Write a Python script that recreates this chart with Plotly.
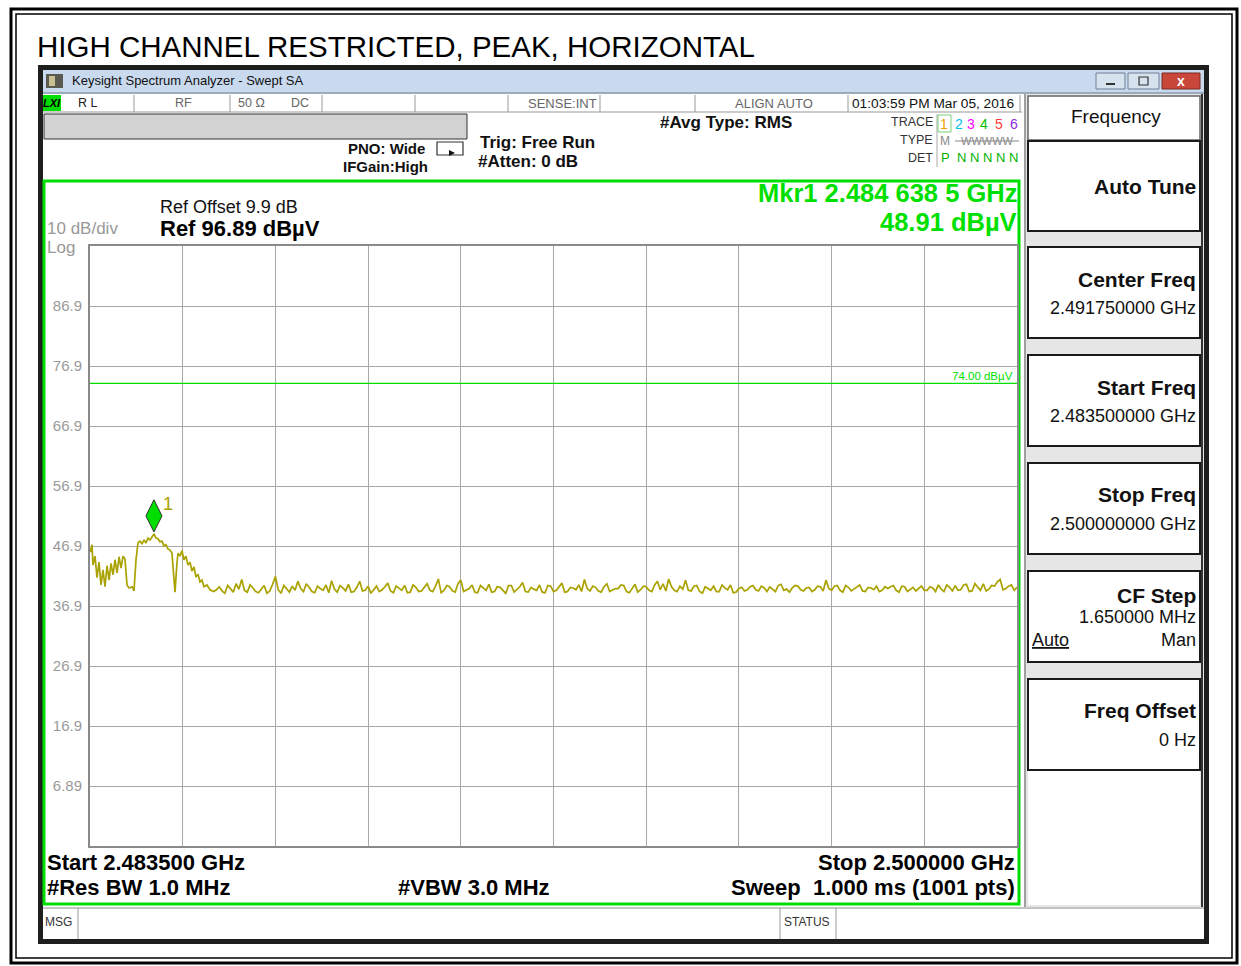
import plotly.graph_objects as go

# ---- data ----
title_text = "HIGH CHANNEL RESTRICTED, PEAK, HORIZONTAL"

start_mhz = 2483.5
stop_mhz = 2500.0
ref_level = 96.89
db_per_div = 10
limit_level = 74.00
mkr_freq = 2484.6385
mkr_level = 48.91

ytick_vals = [86.89, 76.89, 66.89, 56.89, 46.89, 36.89, 26.89, 16.89, 6.89]
ytick_text = ["86.9", "76.9", "66.9", "56.9", "46.9", "36.9", "26.9", "16.9", "6.89"]

# band edge / carrier skirt region
peak_freq = [2483.500, 2483.518, 2483.536, 2483.553, 2483.589, 2483.625, 2483.660, 2483.696,
             2483.732, 2483.767, 2483.803, 2483.839, 2483.874, 2483.910, 2483.945, 2483.981,
             2484.017, 2484.052, 2484.088, 2484.123, 2484.159, 2484.194, 2484.248, 2484.283,
             2484.319, 2484.354, 2484.390, 2484.425, 2484.461, 2484.497, 2484.532, 2484.568,
             2484.603, 2484.639, 2484.675, 2484.710, 2484.746, 2484.781, 2484.817, 2484.852,
             2484.888, 2484.924, 2484.959, 2484.977, 2485.013, 2485.048, 2485.066, 2485.102,
             2485.137, 2485.173, 2485.208, 2485.244, 2485.280, 2485.315, 2485.351, 2485.386,
             2485.422, 2485.458, 2485.493, 2485.529, 2485.582, 2485.636]
peak_level = [46.6, 45.9, 47.1, 43.7, 45.2, 41.6, 44.2, 40.4,
              42.9, 40.1, 43.6, 41.2, 44.0, 42.1, 44.6, 42.4,
              45.1, 43.2, 45.2, 44.7, 40.4, 39.9, 40.1, 39.4,
              44.6, 47.4, 47.7, 47.2, 47.9, 47.4, 48.2, 47.9,
              48.4, 48.9, 48.2, 48.1, 47.6, 47.7, 46.9, 47.1,
              46.4, 46.2, 45.7, 42.9, 39.2, 44.1, 45.7, 45.2,
              46.1, 44.6, 45.2, 43.7, 44.2, 42.7, 43.4, 41.7,
              42.2, 40.9, 41.2, 40.1, 40.4, 39.6]

# noise floor, read at 0.1 MHz steps ...
floor_freq = [2485.7, 2485.8, 2485.9, 2486.0, 2486.1, 2486.2, 2486.3, 2486.4, 2486.5, 2486.6, 2486.7, 2486.8,
              2486.9, 2487.0, 2487.1, 2487.2, 2487.3, 2487.4, 2487.5, 2487.6, 2487.7, 2487.8, 2487.9, 2488.0,
              2488.1, 2488.2, 2488.3, 2488.4, 2488.5, 2488.6, 2488.7, 2488.8, 2488.9, 2489.0, 2489.1, 2489.2,
              2489.3, 2489.4, 2489.5, 2489.6, 2489.7, 2489.8, 2489.9, 2490.0, 2490.1, 2490.2, 2490.3, 2490.4,
              2490.5, 2490.6, 2490.7, 2490.8, 2490.9, 2491.0, 2491.1, 2491.2, 2491.3, 2491.4, 2491.5, 2491.6,
              2491.7, 2491.8, 2491.9, 2492.0, 2492.1, 2492.2, 2492.3, 2492.4, 2492.5, 2492.6, 2492.7, 2492.8,
              2492.9, 2493.0, 2493.1, 2493.2, 2493.3, 2493.4, 2493.5, 2493.6, 2493.7, 2493.8, 2493.9, 2494.0,
              2494.1, 2494.2, 2494.3, 2494.4, 2494.5, 2494.6, 2494.7, 2494.8, 2494.9, 2495.0, 2495.1, 2495.2,
              2495.3, 2495.4, 2495.5, 2495.6, 2495.7, 2495.8, 2495.9, 2496.0, 2496.1, 2496.2, 2496.3, 2496.4,
              2496.5, 2496.6, 2496.7, 2496.8, 2496.9, 2497.0, 2497.1, 2497.2, 2497.3, 2497.4, 2497.5, 2497.6,
              2497.7, 2497.8, 2497.9, 2498.0, 2498.1, 2498.2, 2498.3, 2498.4, 2498.5, 2498.6, 2498.7, 2498.8,
              2498.9, 2499.0, 2499.1, 2499.2, 2499.3, 2499.4, 2499.5, 2499.6, 2499.7, 2499.8, 2499.9, 2500.0]
floor_level = [39.3, 40.1, 39.0, 39.8, 40.6, 41.3, 39.2, 39.9, 39.1, 40.3, 39.4, 41.8,
               39.0, 39.7, 40.2, 41.0, 39.3, 40.0, 39.1, 39.8, 40.4, 41.1, 39.2, 39.9,
               40.5, 39.3, 41.0, 39.5, 39.0, 40.2, 39.6, 40.7, 39.1, 39.8, 40.3, 39.2,
               40.0, 39.4, 40.6, 39.3, 41.4, 39.5, 40.1, 39.2, 41.2, 39.6, 40.4, 39.1,
               39.9, 40.5, 39.3, 40.0, 39.0, 40.3, 39.6, 40.8, 39.2, 39.7, 40.4, 39.1,
               40.2, 39.5, 40.7, 39.3, 39.9, 40.4, 41.3, 39.4, 40.0, 39.2, 40.6, 39.5,
               39.8, 40.3, 39.1, 40.5, 39.6, 40.1, 39.3, 41.0, 40.6, 41.4, 39.5, 40.2,
               41.2, 39.4, 40.3, 39.0, 39.8, 40.2, 39.3, 39.9, 40.4, 39.2, 40.0, 39.6,
               40.3, 39.4, 39.9, 40.1, 39.3, 40.5, 39.7, 39.9, 40.2, 39.4, 40.0, 39.6,
               40.1, 41.2, 39.5, 40.3, 39.2, 40.0, 39.7, 40.4, 39.3, 39.9, 40.2, 39.5,
               39.8, 40.3, 39.2, 40.1, 39.6, 39.4, 40.2, 39.5, 39.9, 40.4, 39.3, 40.0,
               40.3, 39.6, 40.5, 39.4, 40.1, 40.6, 39.7, 40.2, 41.3, 39.8, 40.4, 40.0]
# ... and the sweep points half way between them
mid_level = [39.6, 39.4, 40.3, 39.2, 39.7, 39.5, 40.4, 39.3, 39.8, 39.0, 40.5, 39.6,
             40.3, 39.2, 39.5, 39.8, 40.6, 39.3, 40.2, 39.5, 39.1, 39.7, 40.3, 39.4,
             39.2, 40.0, 39.4, 40.2, 39.7, 39.3, 40.1, 39.4, 40.2, 39.5, 39.1, 40.4,
             39.3, 40.1, 39.5, 40.2, 39.1, 40.3, 39.4, 40.6, 39.3, 39.8, 39.2, 40.3,
             39.5, 39.2, 40.1, 39.4, 40.3, 39.2, 40.1, 39.3, 40.0, 39.5, 39.2, 40.3,
             39.3, 40.1, 39.2, 40.0, 39.6, 39.3, 39.8, 40.2, 39.4, 40.1, 39.3, 39.8,
             40.4, 39.3, 39.9, 39.2, 40.2, 39.5, 40.4, 39.6, 39.4, 40.1, 39.3, 39.7,
             39.5, 40.2, 39.3, 40.1, 39.5, 39.3, 40.4, 39.6, 39.1, 39.8, 39.4, 40.1,
             39.6, 40.2, 39.3, 39.7, 40.3, 39.5, 39.2, 40.3, 39.6, 39.9, 39.3, 40.2,
             39.4, 39.8, 40.2, 39.5, 40.3, 39.4, 40.1, 39.4, 40.0, 39.6, 39.3, 40.1,
             40.1, 39.5, 40.2, 39.3, 40.0, 39.8, 39.5, 40.1, 39.3, 39.7, 40.4, 39.4,
             39.5, 40.4, 39.3, 40.6, 39.5, 39.4, 40.3, 40.9, 39.6, 40.2, 39.5]

trace_freq = list(peak_freq)
trace_level = list(peak_level)
for i in range(len(floor_freq)):
    trace_freq.append(floor_freq[i])
    trace_level.append(floor_level[i])
    if i < len(mid_level):
        trace_freq.append(round(floor_freq[i] + 0.05, 2))
        trace_level.append(mid_level[i])

# ---- page geometry (pixels) ----
W, H = 1241, 966
FONT = "Liberation Sans, Arial, sans-serif"
GREEN = "#00e000"
TRACE = "#aaa200"


def px(x):
    return x / W


def py(y):
    return 1 - y / H


fig = go.Figure()


def box(x0, y0, x1, y1, fill=None, line=None, w=1):
    fig.add_shape(type="rect", xref="paper", yref="paper",
                  x0=px(x0), x1=px(x1), y0=py(y1), y1=py(y0),
                  fillcolor=fill or "rgba(0,0,0,0)",
                  line=dict(color=line or "rgba(0,0,0,0)", width=w if line else 0),
                  layer="below")


def hline(x0, x1, y, color, w=1):
    fig.add_shape(type="line", xref="paper", yref="paper",
                  x0=px(x0), x1=px(x1), y0=py(y), y1=py(y),
                  line=dict(color=color, width=w), layer="below")


def vline(x, y0, y1, color, w=1):
    fig.add_shape(type="line", xref="paper", yref="paper",
                  x0=px(x), x1=px(x), y0=py(y0), y1=py(y1),
                  line=dict(color=color, width=w), layer="below")


def txt(x, y, s, size=14, color="#000", bold=False, anchor="left", family=FONT):
    fig.add_annotation(x=px(x), y=py(y), xref="paper", yref="paper",
                       text=("<b>%s</b>" % s) if bold else s, showarrow=False,
                       xanchor=anchor, yanchor="middle", borderpad=0,
                       font=dict(size=size, color=color, family=family))


# page frame
box(11, 9, 1237, 963, line="#000", w=3)
box(16, 14, 1232, 958, line="#000", w=1.5)
txt(36, 47, title_text, 29.5, "#000")

# instrument window
box(38, 65, 1209, 944, fill="#1e1e1e")
box(43, 70, 1204, 939, fill="#ffffff")
box(43, 70, 1204, 92, fill="#c9d9ee")
hline(43, 1204, 93, "#7d8ea6", 1.5)
box(46, 74, 63, 88, fill="#5a5a50")
box(49, 76, 55, 86, fill="#c8c090")
txt(71, 81, "Keysight Spectrum Analyzer - Swept SA", 13, "#111")
box(1096, 73, 1125, 89, fill="#d7e2ef", line="#6f7f96")
box(1128, 73, 1159, 89, fill="#d7e2ef", line="#6f7f96")
box(1162, 73, 1200, 89, fill="#c9463a", line="#7a2a22")
hline(1106, 1115, 84, "#333", 2)
box(1139, 77, 1148, 85, line="#333", w=1.2)
txt(1181, 81, "<b>x</b>", 14, "#fff", anchor="center")

# status row
box(43, 94, 1022, 112, fill="#ffffff")
hline(43, 1022, 112, "#999", 1)
for sx in [134, 230, 322, 415, 508, 600, 695, 848, 1020]:
    vline(sx, 95, 112, "#999", 1)
box(43, 95, 61, 111, fill="#00dd00")
txt(52, 103, "<i>LXI</i>", 11, "#000", bold=True, anchor="center")
txt(77, 103, "R L", 12.5, "#222")
txt(183, 103, "RF", 12.5, "#666", anchor="center")
txt(237, 103, "50 \u03a9", 12.5, "#666")
txt(290, 103, "DC", 12.5, "#666")
txt(598, 103, "SENSE:INT", 13, "#666", anchor="right")
txt(814, 103, "ALIGN AUTO", 13, "#666", anchor="right")
txt(851, 103, "01:03:59 PM Mar 05, 2016", 13.7, "#111")

# settings area
box(44, 114, 467, 139, fill="#d2d2d2", line="#333", w=1)
txt(426, 148, "PNO: Wide", 15, "#111", bold=True, anchor="right")
txt(429, 166, "IFGain:High", 15, "#111", bold=True, anchor="right")
box(437, 142, 463, 155, line="#333", w=1.2)
fig.add_shape(type="path", xref="paper", yref="paper", layer="below",
              path="M %f,%f L %f,%f L %f,%f Z" % (px(449), py(150), px(455), py(153), px(449), py(156)),
              fillcolor="#111", line=dict(width=0))
txt(479, 142, "Trig: Free Run", 17, "#111", bold=True)
txt(477, 162, "#Atten: 0 dB", 17, "#111", bold=True)
txt(659, 123, "#Avg Type: RMS", 17, "#111", bold=True)

txt(934, 122, "TRACE", 12.5, "#333", anchor="right")
txt(934, 140, "TYPE", 12.5, "#333", anchor="right")
txt(934, 158, "DET", 12.5, "#333", anchor="right")
vline(937, 114, 167, "#aaa", 1)
box(938, 115, 951, 132, line="#7ad07a", w=1)
for dx, d, c in [(944, "1", "#f0a000"), (959, "2", "#00c0f0"), (971, "3", "#ff00ff"),
                 (984, "4", "#00c000"), (999, "5", "#ff3a3a"), (1014, "6", "#8a2be2")]:
    txt(dx, 124, d, 14, c, anchor="center")
txt(945, 141, "M", 12, "#888", anchor="center")
txt(987, 141, "WWWWW", 11, "#888", anchor="center")
hline(955, 1019, 141, "#888", 1)
txt(945, 157, "P", 13, "#00b400", anchor="center")
txt(987, 157, "N N N N N", 13, "#00b400", anchor="center")

# graticule frame
box(44, 181, 1019, 904, fill="#ffffff", line=GREEN, w=3)
txt(159, 207, "Ref Offset 9.9 dB", 18, "#111")
txt(159, 228, "Ref %.2f dB\u00b5V" % ref_level, 22, "#000", bold=True)
txt(46, 228, "%d dB/div" % db_per_div, 17, "#999")
txt(46, 247, "Log", 17, "#999")
txt(1018, 193, "Mkr1 2.484 638 5 GHz", 25.5, GREEN, bold=True, anchor="right")
txt(1018, 222, "%.2f dB\u00b5V" % mkr_level, 25.5, GREEN, bold=True, anchor="right")
txt(46, 862, "Start 2.483500 GHz", 22, "#000", bold=True)
txt(46, 887, "#Res BW 1.0 MHz", 22, "#000", bold=True)
txt(474, 887, "#VBW 3.0 MHz", 22, "#000", bold=True, anchor="center")
txt(1016, 862, "Stop 2.500000 GHz", 22, "#000", bold=True, anchor="right")
txt(1016, 887, "Sweep  1.000 ms (1001 pts)", 22, "#000", bold=True, anchor="right")

# softkey panel
box(1024, 94, 1204, 907, fill="#e6e6e6")
vline(1025, 94, 907, "#888", 1.5)
vline(1202, 94, 907, "#333", 2)
box(1028, 96, 1200, 140, fill="#ffffff", line="#666", w=1.5)
keys = [(141, 231), (247, 338), (355, 446), (463, 554), (571, 662), (679, 770)]
for y0, y1 in keys:
    box(1028, y0, 1200, y1, fill="#ffffff", line="#1a1a1a", w=2)
box(1028, 771, 1200, 905, fill="#ffffff")
txt(1116, 116, "Frequency", 19, "#111", anchor="center")
txt(1197, 186, "Auto Tune", 21, "#111", bold=True, anchor="right")
txt(1197, 279, "Center Freq", 21, "#111", bold=True, anchor="right")
txt(1197, 308, "2.491750000 GHz", 18, "#111", anchor="right")
txt(1197, 387, "Start Freq", 21, "#111", bold=True, anchor="right")
txt(1197, 416, "2.483500000 GHz", 18, "#111", anchor="right")
txt(1197, 494, "Stop Freq", 21, "#111", bold=True, anchor="right")
txt(1197, 524, "2.500000000 GHz", 18, "#111", anchor="right")
txt(1197, 595, "CF Step", 21, "#111", bold=True, anchor="right")
txt(1197, 617, "1.650000 MHz", 18, "#111", anchor="right")
txt(1031, 640, "<u>Auto</u>", 18, "#111")
txt(1197, 640, "Man", 18, "#111", anchor="right")
txt(1197, 710, "Freq Offset", 21, "#111", bold=True, anchor="right")
txt(1197, 740, "0 Hz", 18, "#111", anchor="right")

# message bar
box(43, 908, 1204, 939, fill="#ffffff")
hline(43, 1204, 908, "#888", 1)
vline(78, 908, 939, "#999", 1)
vline(780, 908, 939, "#999", 1)
vline(836, 908, 939, "#999", 1)
txt(58, 922, "MSG", 12, "#333", anchor="center")
txt(807, 922, "STATUS", 12, "#333", anchor="center")

# ---- traces ----
fig.add_trace(go.Scatter(x=[start_mhz, stop_mhz], y=[limit_level, limit_level], mode="lines",
                         line=dict(color=GREEN, width=1.2), hoverinfo="skip"))
fig.add_trace(go.Scatter(x=trace_freq, y=trace_level, mode="lines",
                         line=dict(color=TRACE, width=1.7), hoverinfo="x+y"))
fig.add_trace(go.Scatter(x=[mkr_freq], y=[mkr_level + 3.0], mode="markers",
                         marker=dict(symbol="diamond-tall", size=23, color="#00dd00",
                                     line=dict(color="#333", width=1)), hoverinfo="skip"))
fig.add_annotation(x=mkr_freq, y=mkr_level, xref="x", yref="y", text="1", showarrow=False,
                   xshift=14, yshift=30, font=dict(size=18, color=TRACE, family=FONT))
fig.add_annotation(x=stop_mhz, y=limit_level, xref="x", yref="y",
                   text="%.2f dB\u00b5V" % limit_level, showarrow=False,
                   xanchor="right", yanchor="bottom", xshift=-2, yshift=-1,
                   font=dict(size=11.5, color=GREEN, family=FONT))

fig.update_layout(
    width=W, height=H, autosize=False, showlegend=False,
    margin=dict(l=0, r=0, t=0, b=0),
    paper_bgcolor="#ffffff", plot_bgcolor="rgba(0,0,0,0)",
    xaxis=dict(domain=[px(90), px(1017)], range=[start_mhz, stop_mhz],
               tick0=start_mhz, dtick=(stop_mhz - start_mhz) / 10,
               showticklabels=False, ticks="", showgrid=True, gridcolor="#a8a8a8", gridwidth=1,
               zeroline=False, showline=True, linecolor="#8a8a8a", linewidth=2, mirror=True),
    yaxis=dict(domain=[py(846), py(246)], range=[ref_level - 10 * db_per_div, ref_level],
               tickmode="array", tickvals=ytick_vals, ticktext=ytick_text,
               ticks="", ticklabelstandoff=3,
               tickfont=dict(size=15, color="#9a9a9a", family=FONT),
               showgrid=True, gridcolor="#a8a8a8", gridwidth=1,
               zeroline=False, showline=True, linecolor="#8a8a8a", linewidth=2, mirror=True),
)

# the browser's default 8px body margin would push everything off by 8px
fig.write_html("out.html", config={"displayModeBar": False},
               post_script="document.body.style.margin='0';document.body.style.overflow='hidden';")
